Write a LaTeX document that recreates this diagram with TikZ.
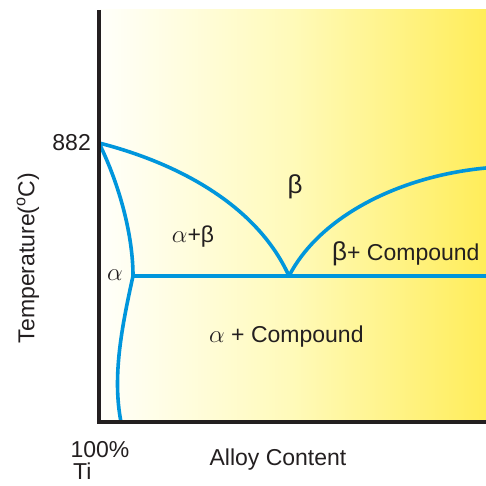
\documentclass[tikz,border=0pt]{standalone}
\usepackage{fontspec}
\setmainfont{Liberation Sans}
\definecolor{curveblue}{RGB}{0,150,220}
\definecolor{axisblack}{RGB}{35,31,32}
\definecolor{yleft}{RGB}{255,255,250}
\definecolor{ymid}{RGB}{255,250,185}
\definecolor{yright}{RGB}{255,237,90}
\definecolor{txt}{RGB}{35,31,32}
\newcommand{\alf}{{\fontsize{27}{27}\selectfont$\alpha$}}
\begin{document}
\begin{tikzpicture}[x=1pt,y=1pt,
  curve/.style={draw=curveblue,line width=3.6pt,line cap=round,line join=round},
  axis/.style={draw=axisblack,line width=3.6pt},
  lbl/.style={font=\fontsize{23}{26}\selectfont,text=txt,inner sep=0pt}]
\useasboundingbox (0,0) rectangle (486,486);
\fill[white] (0,0) rectangle (486,486);
\shade[left color=yleft,right color=ymid] (101,66) rectangle (294,476);
\shade[left color=ymid,right color=yright] (293,66) rectangle (486,476);
% key points
\coordinate (top) at (99,476);
\coordinate (corner) at (99,64);
\coordinate (right) at (486,64);
\coordinate (p882) at (99,343);
\coordinate (eut) at (289,210);
\coordinate (rend) at (486,318);
\coordinate (asol) at (133,210);
\coordinate (abot) at (121,64);
\coordinate (hend) at (486,210);
% curves
\draw[curve] (p882) .. controls (170,325) and (255,285) .. (eut);
\draw[curve] (eut) .. controls (320,270) and (400,310) .. (rend);
\draw[curve] (asol) -- (hend);
\draw[curve] (p882) .. controls (120,300) and (133,250) .. (asol)
  .. controls (122,160) and (112,110) .. (abot);
% axes
\draw[axis] (top) -- (corner) -- (right);
% labels
\node[lbl,anchor=east] (t882) at (91,343) {882};
\node[lbl,rotate=90] (ylab) at (28,228) {Temperature(\textsuperscript{o}C)};
\node[lbl] (la) at (115,211) {\alf};
\node[lbl] (lab) at (193,249) {\alf+β};
\node[lbl] (lb) at (295,299) {\fontsize{26}{26}\selectfont β};
\node[lbl,anchor=west] (lbc) at (332,232) {{\fontsize{26}{26}\selectfont β}+ Compound};
\node[lbl,anchor=west] (lac) at (209,149) {\alf\ + Compound};
\node[lbl] (l100) at (100,36) {100\%};
\node[lbl,anchor=west] (lti) at (73,15) {Ti};
\node[lbl] (lalloy) at (278,26) {Alloy Content};
\end{tikzpicture}
\end{document}
